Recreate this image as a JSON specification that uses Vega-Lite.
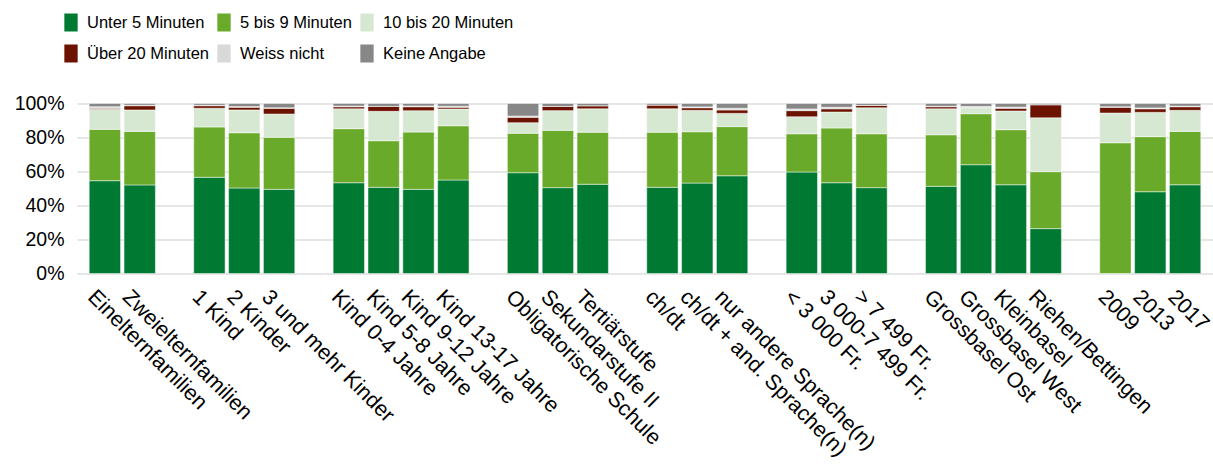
{
  "$schema": "https://vega.github.io/schema/vega-lite/v6.json",
  "autosize": {"type": "none"},
  "width": 1136,
  "height": 170,
  "padding": {"left": 77, "top": 103.5, "right": 0, "bottom": 190.5},
  "background": "#ffffff",
  "config": {
    "view": {"stroke": null},
    "font": "Liberation Sans"
  },
  "datasets": {
    "werte": [
      {"Gruppe": "Einelternfamilien", "Unter 5 Minuten": 54.6, "5 bis 9 Minuten": 30.2, "10 bis 20 Minuten": 11.8, "Über 20 Minuten": 0.6, "Weiss nicht": 0.9, "Keine Angabe": 1.9},
      {"Gruppe": "Zweielternfamilien", "Unter 5 Minuten": 52.1, "5 bis 9 Minuten": 31.5, "10 bis 20 Minuten": 12.6, "Über 20 Minuten": 2.5, "Weiss nicht": 0.3, "Keine Angabe": 1.0},
      {"Gruppe": "1 Kind", "Unter 5 Minuten": 56.6, "5 bis 9 Minuten": 29.6, "10 bis 20 Minuten": 11.0, "Über 20 Minuten": 1.5, "Weiss nicht": 0.3, "Keine Angabe": 1.0},
      {"Gruppe": "2 Kinder", "Unter 5 Minuten": 50.3, "5 bis 9 Minuten": 32.5, "10 bis 20 Minuten": 13.4, "Über 20 Minuten": 1.6, "Weiss nicht": 0.4, "Keine Angabe": 1.8},
      {"Gruppe": "3 und mehr Kinder", "Unter 5 Minuten": 49.5, "5 bis 9 Minuten": 30.6, "10 bis 20 Minuten": 13.7, "Über 20 Minuten": 3.4, "Weiss nicht": 0.3, "Keine Angabe": 2.5},
      {"Gruppe": "Kind 0-4 Jahre", "Unter 5 Minuten": 53.4, "5 bis 9 Minuten": 31.8, "10 bis 20 Minuten": 11.7, "Über 20 Minuten": 1.2, "Weiss nicht": 0.4, "Keine Angabe": 1.5},
      {"Gruppe": "Kind 5-8 Jahre", "Unter 5 Minuten": 50.7, "5 bis 9 Minuten": 27.4, "10 bis 20 Minuten": 17.3, "Über 20 Minuten": 2.9, "Weiss nicht": 0.0, "Keine Angabe": 1.7},
      {"Gruppe": "Kind 9-12 Jahre", "Unter 5 Minuten": 49.5, "5 bis 9 Minuten": 33.7, "10 bis 20 Minuten": 12.6, "Über 20 Minuten": 2.3, "Weiss nicht": 0.5, "Keine Angabe": 1.4},
      {"Gruppe": "Kind 13-17 Jahre", "Unter 5 Minuten": 55.0, "5 bis 9 Minuten": 31.9, "10 bis 20 Minuten": 9.9, "Über 20 Minuten": 1.0, "Weiss nicht": 0.6, "Keine Angabe": 1.6},
      {"Gruppe": "Obligatorische Schule", "Unter 5 Minuten": 59.3, "5 bis 9 Minuten": 23.2, "10 bis 20 Minuten": 6.2, "Über 20 Minuten": 3.2, "Weiss nicht": 0.7, "Keine Angabe": 7.4},
      {"Gruppe": "Sekundarstufe II", "Unter 5 Minuten": 50.5, "5 bis 9 Minuten": 33.7, "10 bis 20 Minuten": 11.6, "Über 20 Minuten": 2.5, "Weiss nicht": 0.0, "Keine Angabe": 1.7},
      {"Gruppe": "Tertiärstufe", "Unter 5 Minuten": 52.5, "5 bis 9 Minuten": 30.6, "10 bis 20 Minuten": 13.8, "Über 20 Minuten": 1.8, "Weiss nicht": 0.0, "Keine Angabe": 1.3},
      {"Gruppe": "ch/dt", "Unter 5 Minuten": 50.7, "5 bis 9 Minuten": 32.4, "10 bis 20 Minuten": 13.8, "Über 20 Minuten": 2.2, "Weiss nicht": 0.0, "Keine Angabe": 0.9},
      {"Gruppe": "ch/dt + and. Sprache(n)", "Unter 5 Minuten": 53.2, "5 bis 9 Minuten": 30.2, "10 bis 20 Minuten": 12.6, "Über 20 Minuten": 1.5, "Weiss nicht": 0.5, "Keine Angabe": 2.0},
      {"Gruppe": "nur andere Sprache(n)", "Unter 5 Minuten": 57.5, "5 bis 9 Minuten": 28.9, "10 bis 20 Minuten": 7.8, "Über 20 Minuten": 2.0, "Weiss nicht": 1.0, "Keine Angabe": 2.8},
      {"Gruppe": "< 3 000 Fr.", "Unter 5 Minuten": 59.7, "5 bis 9 Minuten": 22.5, "10 bis 20 Minuten": 10.0, "Über 20 Minuten": 3.6, "Weiss nicht": 1.0, "Keine Angabe": 3.2},
      {"Gruppe": "3 000-7 499 Fr.", "Unter 5 Minuten": 53.4, "5 bis 9 Minuten": 32.2, "10 bis 20 Minuten": 9.4, "Über 20 Minuten": 1.9, "Weiss nicht": 0.9, "Keine Angabe": 2.2},
      {"Gruppe": "> 7 499 Fr.", "Unter 5 Minuten": 50.5, "5 bis 9 Minuten": 31.7, "10 bis 20 Minuten": 15.3, "Über 20 Minuten": 1.4, "Weiss nicht": 0.0, "Keine Angabe": 1.1},
      {"Gruppe": "Grossbasel Ost", "Unter 5 Minuten": 51.3, "5 bis 9 Minuten": 30.3, "10 bis 20 Minuten": 15.3, "Über 20 Minuten": 1.2, "Weiss nicht": 0.3, "Keine Angabe": 1.6},
      {"Gruppe": "Grossbasel West", "Unter 5 Minuten": 64.0, "5 bis 9 Minuten": 30.0, "10 bis 20 Minuten": 3.5, "Über 20 Minuten": 0.2, "Weiss nicht": 0.6, "Keine Angabe": 1.7},
      {"Gruppe": "Kleinbasel", "Unter 5 Minuten": 52.2, "5 bis 9 Minuten": 32.4, "10 bis 20 Minuten": 11.0, "Über 20 Minuten": 1.6, "Weiss nicht": 0.7, "Keine Angabe": 2.1},
      {"Gruppe": "Riehen/Bettingen", "Unter 5 Minuten": 26.4, "5 bis 9 Minuten": 33.5, "10 bis 20 Minuten": 31.7, "Über 20 Minuten": 7.7, "Weiss nicht": 0.0, "Keine Angabe": 0.7},
      {"Gruppe": "2009", "Unter 5 Minuten": 0.0, "5 bis 9 Minuten": 76.9, "10 bis 20 Minuten": 17.5, "Über 20 Minuten": 3.4, "Weiss nicht": 0.3, "Keine Angabe": 1.9},
      {"Gruppe": "2013", "Unter 5 Minuten": 48.1, "5 bis 9 Minuten": 32.4, "10 bis 20 Minuten": 14.3, "Über 20 Minuten": 2.1, "Weiss nicht": 0.5, "Keine Angabe": 2.6},
      {"Gruppe": "2017", "Unter 5 Minuten": 52.2, "5 bis 9 Minuten": 31.4, "10 bis 20 Minuten": 12.4, "Über 20 Minuten": 2.1, "Weiss nicht": 0.4, "Keine Angabe": 1.5}
    ],
    "kategorien": [
      {"Kategorie": "Unter 5 Minuten", "Rang": 1},
      {"Kategorie": "5 bis 9 Minuten", "Rang": 2},
      {"Kategorie": "10 bis 20 Minuten", "Rang": 3},
      {"Kategorie": "Über 20 Minuten", "Rang": 4},
      {"Kategorie": "Weiss nicht", "Rang": 5},
      {"Kategorie": "Keine Angabe", "Rang": 6}
    ]
  },
  "data": {"name": "werte"},
  "transform": [
    {"fold": ["Unter 5 Minuten", "5 bis 9 Minuten", "10 bis 20 Minuten", "Über 20 Minuten", "Weiss nicht", "Keine Angabe"], "as": ["Kategorie", "Anteil"]},
    {"lookup": "Kategorie", "from": {"data": {"name": "kategorien"}, "key": "Kategorie", "fields": ["Rang"]}}
  ],
  "mark": {"type": "bar", "stroke": "#ffffff", "strokeWidth": 0.8, "strokeOpacity": 0.6},
  "encoding": {
    "x": {
      "field": "Gruppe",
      "type": "nominal",
      "title": null,
      "scale": {
        "domain": ["Einelternfamilien", "Zweielternfamilien", " ", "1 Kind", "2 Kinder", "3 und mehr Kinder", "  ", "Kind 0-4 Jahre", "Kind 5-8 Jahre", "Kind 9-12 Jahre", "Kind 13-17 Jahre", "   ", "Obligatorische Schule", "Sekundarstufe II", "Tertiärstufe", "    ", "ch/dt", "ch/dt + and. Sprache(n)", "nur andere Sprache(n)", "     ", "< 3 000 Fr.", "3 000-7 499 Fr.", "> 7 499 Fr.", "      ", "Grossbasel Ost", "Grossbasel West", "Kleinbasel", "Riehen/Bettingen", "       ", "2009", "2013", "2017"],
        "paddingInner": 0.1,
        "paddingOuter": 0.35
      },
      "axis": {
        "labelAngle": 45,
        "labelAlign": "left",
        "labelBaseline": "middle",
        "labelFontSize": 21.5,
        "labelColor": "#000000",
        "labelPadding": 20,
        "labelOffset": -14,
        "labelLimit": 400,
        "labelOverlap": false,
        "ticks": false,
        "domain": false,
        "grid": false
      }
    },
    "y": {
      "field": "Anteil",
      "type": "quantitative",
      "stack": "normalize",
      "title": null,
      "scale": {"domain": [0, 1]},
      "axis": {
        "values": [0, 0.2, 0.4, 0.6, 0.8, 1],
        "format": ".0%",
        "labelFontSize": 19.5,
        "labelColor": "#000000",
        "labelPadding": 13,
        "ticks": false,
        "domain": false,
        "gridColor": "#e6e6e6",
        "gridWidth": 2
      }
    },
    "color": {
      "field": "Kategorie",
      "type": "nominal",
      "title": null,
      "scale": {
        "domain": ["Unter 5 Minuten", "5 bis 9 Minuten", "10 bis 20 Minuten", "Über 20 Minuten", "Weiss nicht", "Keine Angabe"],
        "range": ["#007a33", "#6aaa2a", "#d6e8d2", "#6b1300", "#d9d9d9", "#878787"]
      },
      "legend": {
        "orient": "none",
        "legendX": -15,
        "legendY": -90,
        "direction": "horizontal",
        "columns": 3,
        "columnPadding": 6,
        "rowPadding": 13,
        "symbolType": "M-0.74,-1L0.74,-1L0.74,1L-0.74,1Z",
        "symbolSize": 324,
        "symbolStrokeWidth": 0,
        "symbolOpacity": 1,
        "labelFont": "Liberation Sans",
        "labelFontSize": 16.5,
        "labelColor": "#000000",
        "labelOffset": 7,
        "labelLimit": 300
      }
    },
    "order": {"field": "Rang", "type": "quantitative", "sort": "ascending"}
  }
}
